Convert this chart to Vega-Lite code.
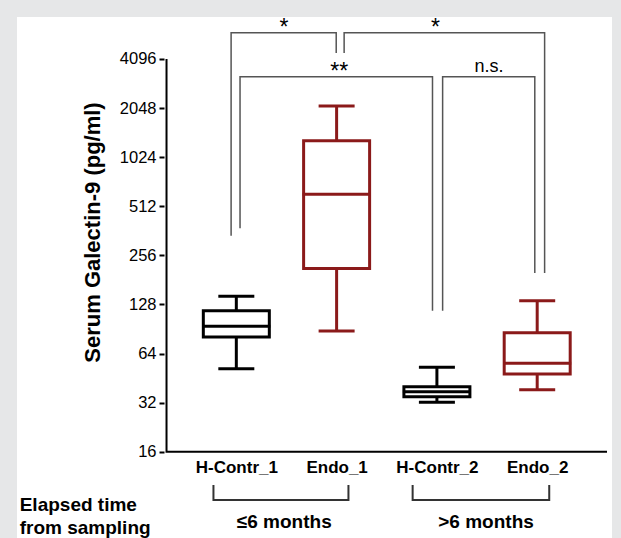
{
  "$schema": "https://vega.github.io/schema/vega-lite/v6.json",
  "width": 595,
  "height": 521,
  "autosize": {"type": "none"},
  "padding": {"left": 17, "top": 17, "right": 9, "bottom": 0},
  "background": "#e6e7e8",
  "config": {"font": "Liberation Sans", "view": {"stroke": null, "fill": "white"}},
  "datasets": {
    "boxes": [
      {"group": "H-Contr_1", "kind": "Control", "pos": 1, "min": 51.7, "q1": 81, "median": 94, "q3": 117, "max": 144},
      {"group": "Endo_1", "kind": "Endo", "pos": 2, "min": 88, "q1": 213, "median": 606, "q3": 1292, "max": 2108},
      {"group": "H-Contr_2", "kind": "Control", "pos": 3, "min": 32.2, "q1": 34.8, "median": 37.4, "q3": 40.1, "max": 52.7},
      {"group": "Endo_2", "kind": "Endo", "pos": 4, "min": 38.4, "q1": 48, "median": 55.8, "q3": 86, "max": 135}
    ],
    "axisline": [
      {"ord": 1, "x": 0.304, "y": 4096},
      {"ord": 2, "x": 0.304, "y": 16},
      {"ord": 3, "x": 4.696, "y": 16}
    ],
    "topBrackets": [
      {"id": "a", "ord": 1, "x": 0.948, "y": 338},
      {"id": "a", "ord": 2, "x": 0.948, "y": 5940},
      {"id": "a", "ord": 3, "x": 1.996, "y": 5940},
      {"id": "a", "ord": 4, "x": 1.996, "y": 4456},
      {"id": "b", "ord": 1, "x": 2.075, "y": 4456},
      {"id": "b", "ord": 2, "x": 2.075, "y": 5940},
      {"id": "b", "ord": 3, "x": 4.074, "y": 5940},
      {"id": "b", "ord": 4, "x": 4.074, "y": 199.5},
      {"id": "c", "ord": 1, "x": 1.037, "y": 375},
      {"id": "c", "ord": 2, "x": 1.037, "y": 3190},
      {"id": "c", "ord": 3, "x": 2.956, "y": 3190},
      {"id": "c", "ord": 4, "x": 2.956, "y": 117},
      {"id": "d", "ord": 1, "x": 3.057, "y": 117},
      {"id": "d", "ord": 2, "x": 3.057, "y": 3190},
      {"id": "d", "ord": 3, "x": 3.976, "y": 3190},
      {"id": "d", "ord": 4, "x": 3.976, "y": 199.5}
    ],
    "bottomBrackets": [
      {"id": "e", "ord": 1, "x": 0.772, "y": 10},
      {"id": "e", "ord": 2, "x": 0.772, "y": 8.1},
      {"id": "e", "ord": 3, "x": 2.118, "y": 8.1},
      {"id": "e", "ord": 4, "x": 2.118, "y": 10},
      {"id": "f", "ord": 1, "x": 2.758, "y": 10},
      {"id": "f", "ord": 2, "x": 2.758, "y": 8.1},
      {"id": "f", "ord": 3, "x": 4.12, "y": 8.1},
      {"id": "f", "ord": 4, "x": 4.12, "y": 10}
    ],
    "signif": [
      {"label": "*", "x": 1.476, "y": 6780},
      {"label": "*", "x": 2.986, "y": 6780},
      {"label": "**", "x": 2.027, "y": 3665}
    ],
    "ns": [
      {"label": "n.s.", "x": 3.52, "y": 3665}
    ],
    "periods": [
      {"label": "≤6 months", "x": 1.478, "y": 5.97},
      {"label": ">6 months", "x": 3.49, "y": 5.97}
    ],
    "elapsed": [
      {"label": "Elapsed time", "x": -1.16, "y": 7.55},
      {"label": "from sampling", "x": -1.16, "y": 5.48}
    ]
  },
  "layer": [
    {
      "data": {"name": "boxes"},
      "mark": {"type": "rule", "strokeWidth": 3},
      "encoding": {
        "x": {
          "field": "pos", "type": "quantitative",
          "scale": {"domain": [-1.137, 4.696], "nice": false, "zero": false},
          "axis": {
            "values": [1, 2, 3, 4],
            "labelExpr": "['', 'H-Contr_1', 'Endo_1', 'H-Contr_2', 'Endo_2'][datum.value]",
            "title": null, "domain": false, "ticks": false, "grid": false,
            "offset": -86, "labelPadding": 7, "labelFontSize": 17, "labelFontWeight": "bold",
            "labelColor": "black", "labelFont": "Liberation Sans"
          }
        },
        "y": {
          "field": "min", "type": "quantitative",
          "scale": {"type": "log", "base": 2, "domain": [4.739, 7406], "nice": false, "zero": false},
          "axis": {
            "values": [16, 32, 64, 128, 256, 512, 1024, 2048, 4096],
            "format": "d",
            "title": "Serum Galectin-9 (pg/ml)",
            "domain": false, "grid": false, "offset": -147,
            "tickSize": 5, "tickWidth": 2, "tickColor": "black",
            "labelFontSize": 16.5, "labelColor": "black", "labelPadding": 3, "labelFont": "Liberation Sans",
            "titleFontSize": 22, "titleFontWeight": "bold", "titleColor": "black", "titleFont": "Liberation Sans",
            "titleAngle": -90, "titleX": -72, "titleY": 215, "titleAlign": "center", "titleBaseline": "middle"
          }
        },
        "y2": {"field": "max"},
        "color": {"field": "kind", "type": "nominal", "scale": {"domain": ["Control", "Endo"], "range": ["#000000", "#8b1a1a"]}, "legend": null}
      }
    },
    {
      "data": {"name": "boxes"},
      "mark": {"type": "bar", "width": 66, "fill": "white", "strokeWidth": 3, "opacity": 1},
      "encoding": {
        "x": {"field": "pos", "type": "quantitative"},
        "y": {"field": "q3", "type": "quantitative"},
        "y2": {"field": "q1"},
        "stroke": {"field": "kind", "type": "nominal", "scale": {"domain": ["Control", "Endo"], "range": ["#000000", "#8b1a1a"]}, "legend": null}
      }
    },
    {
      "data": {"name": "boxes"},
      "mark": {"type": "tick", "orient": "horizontal", "size": 36, "thickness": 3, "opacity": 1},
      "encoding": {
        "x": {"field": "pos", "type": "quantitative"},
        "y": {"field": "min", "type": "quantitative"},
        "color": {"field": "kind", "type": "nominal", "legend": null}
      }
    },
    {
      "data": {"name": "boxes"},
      "mark": {"type": "tick", "orient": "horizontal", "size": 36, "thickness": 3, "opacity": 1},
      "encoding": {
        "x": {"field": "pos", "type": "quantitative"},
        "y": {"field": "max", "type": "quantitative"},
        "color": {"field": "kind", "type": "nominal", "legend": null}
      }
    },
    {
      "data": {"name": "boxes"},
      "mark": {"type": "tick", "orient": "horizontal", "size": 68, "thickness": 3, "opacity": 1},
      "encoding": {
        "x": {"field": "pos", "type": "quantitative"},
        "y": {"field": "median", "type": "quantitative"},
        "color": {"field": "kind", "type": "nominal", "legend": null}
      }
    },
    {
      "data": {"name": "axisline"},
      "mark": {"type": "line", "color": "black", "strokeWidth": 2, "strokeJoin": "miter"},
      "encoding": {
        "x": {"field": "x", "type": "quantitative"},
        "y": {"field": "y", "type": "quantitative"},
        "order": {"field": "ord"}
      }
    },
    {
      "data": {"name": "topBrackets"},
      "mark": {"type": "line", "strokeJoin": "miter", "color": "#555555", "strokeWidth": 1.5},
      "encoding": {
        "x": {"field": "x", "type": "quantitative"},
        "y": {"field": "y", "type": "quantitative"},
        "detail": {"field": "id"},
        "order": {"field": "ord"}
      }
    },
    {
      "data": {"name": "bottomBrackets"},
      "mark": {"type": "line", "strokeJoin": "miter", "color": "#333333", "strokeWidth": 2},
      "encoding": {
        "x": {"field": "x", "type": "quantitative"},
        "y": {"field": "y", "type": "quantitative"},
        "detail": {"field": "id"},
        "order": {"field": "ord"}
      }
    },
    {
      "data": {"name": "signif"},
      "mark": {"type": "text", "fontSize": 23, "baseline": "middle", "align": "center", "color": "black", "dy": 5},
      "encoding": {
        "x": {"field": "x", "type": "quantitative"},
        "y": {"field": "y", "type": "quantitative"},
        "text": {"field": "label"}
      }
    },
    {
      "data": {"name": "ns"},
      "mark": {"type": "text", "fontSize": 18, "baseline": "middle", "align": "center", "color": "black"},
      "encoding": {
        "x": {"field": "x", "type": "quantitative"},
        "y": {"field": "y", "type": "quantitative"},
        "text": {"field": "label"}
      }
    },
    {
      "data": {"name": "periods"},
      "mark": {"type": "text", "fontSize": 19, "fontWeight": "bold", "baseline": "middle", "align": "center", "color": "black"},
      "encoding": {
        "x": {"field": "x", "type": "quantitative"},
        "y": {"field": "y", "type": "quantitative"},
        "text": {"field": "label"}
      }
    },
    {
      "data": {"name": "elapsed"},
      "mark": {"type": "text", "fontSize": 19, "fontWeight": "bold", "baseline": "middle", "align": "left", "color": "black"},
      "encoding": {
        "x": {"field": "x", "type": "quantitative"},
        "y": {"field": "y", "type": "quantitative"},
        "text": {"field": "label"}
      }
    }
  ]
}
